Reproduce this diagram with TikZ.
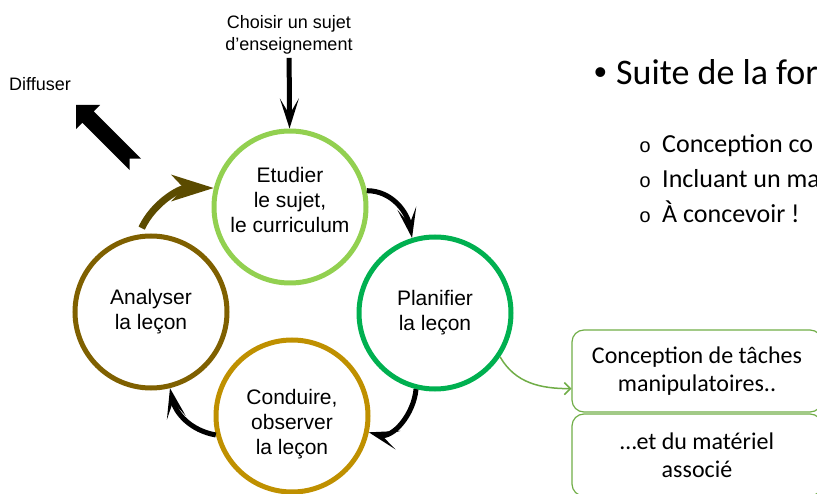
\documentclass[tikz,border=0pt]{standalone}
\usepackage{fontspec}
\setmainfont{Liberation Sans}
\newfontfamily\calibri{Carlito}
\newfontfamily\courier{Liberation Mono}
\usepackage{tikz}
\usetikzlibrary{arrows.meta}
\definecolor{vertclair}{HTML}{92D050}
\definecolor{vertfonce}{HTML}{00B050}
\definecolor{ocre}{HTML}{BF9000}
\definecolor{brun}{HTML}{7F6000}
\definecolor{brunfonce}{HTML}{5B4B00}
\definecolor{vertboite}{HTML}{70AD47}

\begin{document}
\begin{tikzpicture}[x=1pt,y=-1pt,
	lecon/.style={align=center, font=\fontsize{21}{25}\selectfont},
	etape/.style={lecon, circle, draw, line width=5pt, minimum size=152pt, inner sep=0pt},
	fleche/.style={line width=5pt, -{Stealth[length=30pt,width=19pt,inset=16pt]}},
	boite/.style={draw=vertboite, line width=1.2pt, rounded corners=12pt, minimum width=250pt, minimum height=82pt, align=center, font=\calibri\fontsize{24}{28}\selectfont},
	etiquette/.style={align=center, font=\fontsize{18}{22}\selectfont},
	texte/.style={anchor=base west, inner sep=0pt}]
\useasboundingbox (0,0) rectangle (817,494);
\clip (0,0) rectangle (817,494);

\node[etape, draw=vertclair, label={[lecon, yshift=7pt]center:{Etudier\\le sujet,\\le curriculum}}] (etudier) at (290,207) {};
\node[etape, draw=vertfonce] (planifier) at (435,313) {Planifier\\la leçon};
\node[etape, draw=ocre, label={[lecon, yshift=-8pt]center:{Conduire,\\observer\\la leçon}}] (conduire) at (292,416) {};
\node[etape, draw=brun] (analyser) at (151,312) {Analyser\\la leçon};

\node[etiquette] (choisir) at (289,35) {Choisir un sujet\\d’enseignement};
\node[etiquette, texte] (diffuser) at (9,91) {Diffuser};

\draw[fleche] (choisir) -- (etudier);
\draw[fleche] (etudier.12) to[out=0,in=100] (planifier.107);
\draw[fleche] (planifier.256) to[out=-95,in=-15] (conduire.-12);
\draw[fleche] (conduire.194) to[out=170,in=-78] (analyser.284);
\draw[fleche, draw=brunfonce, line width=7pt, -{Stealth[length=42pt,width=26pt,inset=12pt]}, shorten <=7pt] (analyser.99) to[out=65,in=180] (etudier.166);

\begin{scope}[shift={(76,105)}, rotate=-45]
\fill (0,0) -- (17,-17) -- (17,-8) -- (84,-8) -- (76,0) -- (84,8) -- (17,8) -- (17,17) -- cycle;
\end{scope}

\node[boite] (boite1) at (697,371) {Conception de tâches\\manipulatoires..};
\node[boite] (boite2) at (697,455) {…et du matériel\\associé};
\draw[vertboite, line width=1.5pt, -{Straight Barb[length=6pt,width=12pt]}] (planifier.-34) to[out=-60,in=180] (boite1.188);

\node[texte, font=\fontsize{36}{43}\selectfont] (puce) at (594,85) {•};
\node[texte, font=\calibri\fontsize{36}{43}\selectfont] (suite) at (616,85) {Suite de la for};
\foreach \y/\t [count=\i] in {153/Conception co, 188/Incluant un ma, 223/À concevoir !} {
	\node[texte, font=\courier\fontsize{20}{24}\selectfont] (rond\i) at (639,\y) {o};
	\node[texte, font=\calibri\fontsize{26}{31}\selectfont] (item\i) at (662,\y) {\t};
}
\end{tikzpicture}
\end{document}
